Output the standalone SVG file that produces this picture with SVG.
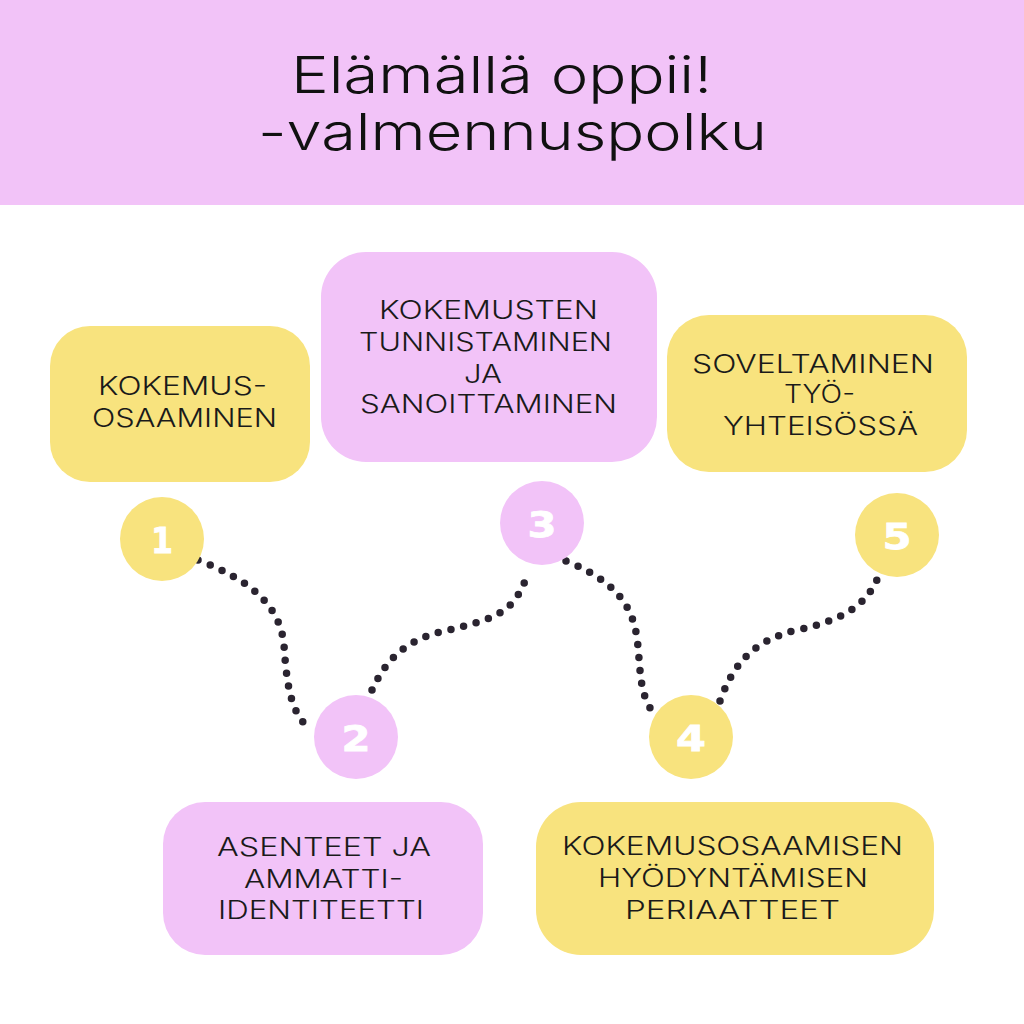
<svg xmlns="http://www.w3.org/2000/svg" width="1024" height="1024" viewBox="0 0 1024 1024">
<style>
.pink{fill:#F2C3F8}
.yellow{fill:#F8E37E}
.lbl{font-family:Inter,"Liberation Sans",Arial,sans-serif;font-weight:300;font-size:25px;fill:#1a1a1a;text-anchor:start}
.title{font-family:Inter,"Liberation Sans",Arial,sans-serif;font-weight:300;font-size:51px;fill:#111}
.num{font-family:"DejaVu Sans","Liberation Sans",sans-serif;font-weight:bold;font-size:36px;fill:#fff;stroke:#fff;stroke-width:0.8;text-anchor:middle}
.dots{fill:none;stroke:#2A2430;stroke-width:7.5;stroke-linecap:round;stroke-dasharray:0 13}
</style>
<rect x="0" y="0" width="1024" height="1024" fill="#fff"/>
<g id="header">
<rect class="pink" x="0" y="0" width="1024" height="205"/>
<text class="title" x="291" y="93" textLength="421" lengthAdjust="spacingAndGlyphs">Elämällä oppii!</text>
<text class="title" x="258" y="150" textLength="509" lengthAdjust="spacingAndGlyphs">-valmennuspolku</text>
</g>
<g id="connectors">
<path class="dots" d="M198,560 C250,580 280,605 284,645 C287,690 292,715 311,730"/>
<path class="dots" d="M372,690 C388,655 410,640 440,632 C478,623 502,618 516,598 C523,588 526,580 527,572"/>
<path class="dots" d="M566,561 C612,580 632,602 637,638 C641,668 638,696 656,716"/>
<path class="dots" d="M720,701 C734,662 755,640 797,630 C838,621 868,608 880,572"/>
</g>
<g id="node1">
<rect class="yellow" x="50" y="326" width="260" height="156" rx="40"/>
<text class="lbl" x="98" y="395" textLength="169" lengthAdjust="spacingAndGlyphs">KOKEMUS-</text>
<text class="lbl" x="92" y="427" textLength="185" lengthAdjust="spacingAndGlyphs">OSAAMINEN</text>
<circle class="yellow" cx="162" cy="539" r="42"/>
<text class="num" x="162" y="553" textLength="22" lengthAdjust="spacingAndGlyphs">1</text>
</g>
<g id="node2">
<rect class="pink" x="163" y="802" width="320" height="153" rx="42"/>
<text class="lbl" x="217" y="856" textLength="214" lengthAdjust="spacingAndGlyphs">ASENTEET JA</text>
<text class="lbl" x="244" y="888" textLength="159" lengthAdjust="spacingAndGlyphs">AMMATTI-</text>
<text class="lbl" x="218" y="919" textLength="206" lengthAdjust="spacingAndGlyphs">IDENTITEETTI</text>
<circle class="pink" cx="356" cy="737" r="42"/>
<text class="num" x="356" y="751" textLength="29" lengthAdjust="spacingAndGlyphs">2</text>
</g>
<g id="node3">
<rect class="pink" x="321" y="252" width="336" height="210" rx="45"/>
<text class="lbl" x="379" y="319" textLength="219" lengthAdjust="spacingAndGlyphs">KOKEMUSTEN</text>
<text class="lbl" x="359" y="351" textLength="253" lengthAdjust="spacingAndGlyphs">TUNNISTAMINEN</text>
<text class="lbl" x="464" y="383" textLength="38" lengthAdjust="spacingAndGlyphs">JA</text>
<text class="lbl" x="360" y="413" textLength="257" lengthAdjust="spacingAndGlyphs">SANOITTAMINEN</text>
<circle class="pink" cx="542" cy="523" r="42"/>
<text class="num" x="542" y="537" textLength="29" lengthAdjust="spacingAndGlyphs">3</text>
</g>
<g id="node4">
<rect class="yellow" x="536" y="802" width="398" height="153" rx="45"/>
<text class="lbl" x="562" y="855" textLength="341" lengthAdjust="spacingAndGlyphs">KOKEMUSOSAAMISEN</text>
<text class="lbl" x="598" y="887" textLength="270" lengthAdjust="spacingAndGlyphs">HYÖDYNTÄMISEN</text>
<text class="lbl" x="625" y="919" textLength="215" lengthAdjust="spacingAndGlyphs">PERIAATTEET</text>
<circle class="yellow" cx="691" cy="737" r="42"/>
<text class="num" x="691" y="751" textLength="30" lengthAdjust="spacingAndGlyphs">4</text>
</g>
<g id="node5">
<rect class="yellow" x="667" y="315" width="300" height="157" rx="42"/>
<text class="lbl" x="692" y="373" textLength="242" lengthAdjust="spacingAndGlyphs">SOVELTAMINEN</text>
<text class="lbl" x="784" y="403" textLength="71" lengthAdjust="spacingAndGlyphs">TYÖ-</text>
<text class="lbl" x="723" y="435" textLength="195" lengthAdjust="spacingAndGlyphs">YHTEISÖSSÄ</text>
<circle class="yellow" cx="897" cy="535" r="42"/>
<text class="num" x="897" y="549" textLength="29" lengthAdjust="spacingAndGlyphs">5</text>
</g>
</svg>
